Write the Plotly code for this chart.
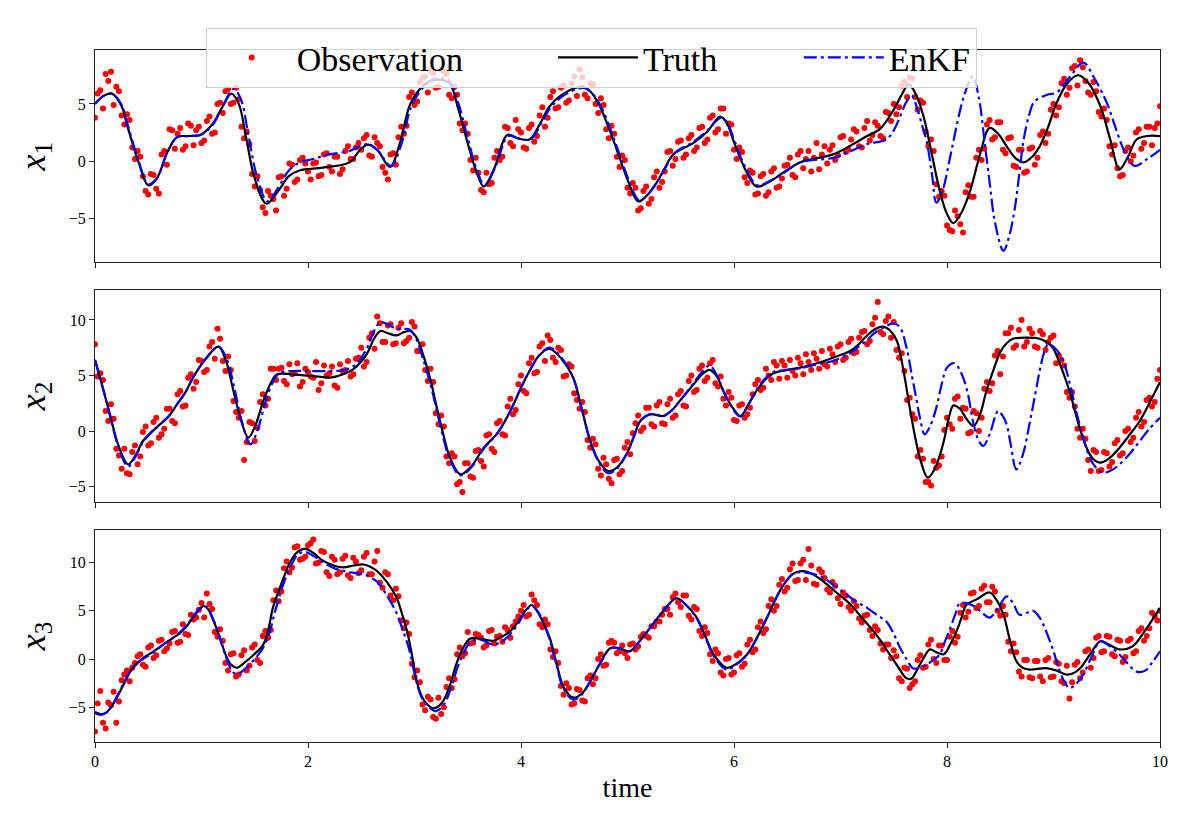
import numpy as np
import plotly.graph_objects as go
from plotly.subplots import make_subplots

# observation times: every 0.05, plus the in-between ones at 0.025 + 0.05k
t_obs = np.round(np.arange(0, 10.0001, 0.05), 3)
t_mid = np.round(np.arange(0.025, 10, 0.05), 3)

# ---- x1 ----
x1_truth_t = [0, 0.08, 0.16, 0.25, 0.3, 0.41, 0.5, 0.58, 0.68, 0.77, 0.88, 0.99, 1.1, 1.2, 1.28, 1.35, 1.42, 1.5, 1.61, 1.72,
              1.82, 1.92, 2.14, 2.39, 2.48, 2.56, 2.65, 2.77, 2.86, 2.96, 3.05, 3.15, 3.25, 3.33, 3.41, 3.49, 3.57, 3.65, 3.75,
              3.87, 3.97, 4.08, 4.18, 4.27, 4.4, 4.58, 4.66, 4.74, 4.82, 4.9, 5.0, 5.1, 5.18, 5.27, 5.35, 5.43, 5.62, 5.75,
              5.87, 5.93, 5.99, 6.1, 6.21, 6.33, 6.46, 6.62, 6.93, 7.1, 7.25, 7.37, 7.5, 7.58, 7.64, 7.71, 7.78, 7.86, 7.93,
              8.0, 8.06, 8.14, 8.22, 8.31, 8.4, 8.48, 8.56, 8.64, 8.72, 8.8, 8.87, 8.95, 9.03, 9.13, 9.23, 9.33, 9.44, 9.53,
              9.62, 9.7, 9.78, 9.88, 10]
x1_truth = [5.0, 5.7, 5.9, 4.8, 3.2, -0.1, -2.1, -1.5, 0.8, 2.1, 2.2, 2.3, 3.2, 4.8, 5.9, 5.0, 2.0, -1.5, -3.7, -2.6,
            -1.3, -0.8, -0.55, -0.1, 0.9, 1.45, 1.0, -0.5, 1.5, 5.0, 6.3, 7.0, 7.1, 6.8, 4.6, 1.9, -0.6, -2.2, -0.6,
            2.3, 2.0, 1.9, 3.3, 4.8, 5.9, 6.5, 6.0, 4.8, 3.0, 1.0, -1.6, -3.5, -3.0, -1.9, -0.6, 0.6, 1.6, 2.6,
            3.9, 3.4, 1.9, -0.6, -2.2, -1.8, -1.0, -0.1, 0.6, 1.4, 2.2, 2.8, 4.5, 5.9, 6.7, 5.8, 3.9, 0.5, -2.5,
            -4.6, -5.4, -4.4, -2.5, 0.6, 2.9, 2.4, 1.3, 0.3, -0.1, 0.4, 1.3, 3.0, 5.1, 6.8, 7.5, 6.8, 4.8, 2.0,
            -0.7, 0.4, 1.9, 2.2, 2.2]
x1_enkf_t = [0, 0.08, 0.16, 0.25, 0.3, 0.41, 0.5, 0.58, 0.68, 0.77, 0.88, 0.99, 1.1, 1.2, 1.3, 1.37, 1.44, 1.52, 1.62, 1.72,
             1.82, 1.92, 2.05, 2.2, 2.39, 2.48, 2.56, 2.65, 2.78, 2.87, 2.97, 3.06, 3.16, 3.25, 3.33, 3.42, 3.5, 3.58, 3.66,
             3.76, 3.88, 3.98, 4.09, 4.19, 4.28, 4.41, 4.59, 4.67, 4.75, 4.83, 4.91, 5.01, 5.11, 5.19, 5.28, 5.36, 5.44,
             5.62, 5.75, 5.88, 5.94, 6.0, 6.11, 6.22, 6.34, 6.47, 6.62, 6.93, 7.1, 7.25, 7.43, 7.5, 7.56, 7.62, 7.67, 7.72,
             7.77, 7.81, 7.86, 7.9, 7.96, 8.03, 8.1, 8.16, 8.24, 8.3, 8.35, 8.4, 8.45, 8.53, 8.59, 8.64, 8.68, 8.72, 8.77,
             8.82, 8.94, 9.03, 9.15, 9.28, 9.38, 9.5, 9.58, 9.66, 9.76, 9.88, 10]
x1_enkf = [5.0, 5.7, 5.9, 4.9, 3.4, 0.0, -2.0, -1.5, 0.8, 2.1, 2.2, 2.3, 3.1, 4.8, 6.3, 5.4, 2.3, -1.3, -3.5, -2.3,
           -0.8, -0.1, 0.2, 0.6, 0.9, 1.3, 1.5, 1.0, -0.4, 1.3, 4.8, 6.2, 7.1, 7.3, 7.0, 4.8, 2.0, -0.6, -2.1,
           -0.5, 2.2, 2.0, 1.9, 3.3, 4.7, 5.8, 6.4, 5.9, 4.8, 3.0, 1.0, -1.6, -3.4, -2.9, -1.8, -0.5, 0.7,
           1.7, 2.7, 3.8, 3.3, 1.9, -0.6, -2.1, -1.7, -1.0, -0.1, 0.3, 0.9, 1.5, 1.9, 2.7, 3.9, 5.2, 5.7, 4.6,
           3.0, 1.7, -1.2, -3.6, -2.5, 0.4, 3.5, 5.7, 7.4, 5.5, 1.9, -1.8, -5.3, -7.8, -6.3, -3.9, -1.0, 1.9, 4.0,
           5.2, 5.8, 6.0, 7.3, 8.6, 7.3, 5.1, 3.0, 1.0, -0.4, 0.2, 1.0]
x1_obs = [3.8, 6.2, 7.6, 7.8, 6.5, 4.0, 4.1, 1.2, 0.9, -1.3, -2.9, -1.2, -2.8, 0.9, 2.8, 1.1, 2.9, 1.3, 3.1, 2.7,
          1.6, 3.5, 2.4, 5.0, 4.2, 6.3, 5.1, 5.4, 2.0, 1.5, -2.2, -2.5, -4.5, -3.0, -4.3, -1.3, -2.4, -0.3, -1.6, 0.3,
          -0.9, -0.2, -1.3, 0.6, -0.5, 0.4, -1.1, 0.9, 0.2, 1.2, 1.0, 2.3, 0.4, 1.6, -0.5, -1.6, 0.7, 2.1, 2.4, 5.6,
          4.9, 6.9, 7.4, 7.9, 6.4, 8.0, 7.6, 5.5, 5.8, 2.7, 2.4, -0.8, -1.0, -2.7, -2.0, 0.3, 0.1, 3.0, 1.6, 3.6,
          2.5, 1.1, 3.2, 2.2, 4.7, 3.8, 6.1, 4.7, 6.6, 5.3, 7.4, 8.0, 5.8, 6.8, 5.0, 5.5, 2.8, 3.1, 0.4, 0.5,
          -2.3, -1.9, -4.3, -2.6, -3.7, -1.4, -2.3, -0.9, 0.9, 0.2, 1.8, 0.6, 2.3, 1.2, 3.0, 1.9, 4.0, 2.8, 4.6, 3.3,
          1.0, 1.2, -1.4, -0.8, -2.9, -1.3, -3.0, -0.9, -2.3, -1.5, -0.3, -1.2, 0.6, -0.6, 0.9, 0.3, -0.7, 1.3, 1.0, 0.1,
          2.1, 0.8, 1.9, 2.6, 1.2, 3.5, 2.3, 3.1, 2.0, 4.2, 5.0, 4.7, 6.9, 7.3, 5.6, 5.3, 2.6, 1.9, -2.0, -2.6,
          -5.6, -6.1, -4.8, -6.2, -2.1, -3.1, 1.0, 1.1, 3.6, 2.1, 3.4, 0.7, 2.1, -0.5, 1.0, -0.9, 1.2, 0.3, 2.6, 2.4,
          5.0, 4.7, 7.2, 6.4, 8.3, 8.8, 7.0, 5.8, 6.1, 3.9, 3.6, 0.6, -0.6, -1.2, 1.2, 0.5, 2.8, 1.6, 3.0, 2.9,
          4.8]
x1_obs_mid = [5.9, 4.6, 7.0, 4.9, 6.1, 3.2, 3.6, 0.2, 0.4, -2.6, -1.1, -2.4, 0.6, -0.3, 2.7, 2.4, 1.0, 3.3, 1.4, 3.0,
              1.8, 3.9, 2.5, 5.1, 6.1, 5.0, 6.4, 3.0, 2.6, -1.1, -1.3, -4.0, -2.6, -3.3, -1.4, -3.0, -0.2, -1.8, 0.1, -0.2,
              -1.6, -0.1, -1.2, 0.7, -0.9, 0.4, -0.7, 1.3, 0.2, 1.6, 2.0, 0.5, 2.1, 1.3, -1.0, 0.6, -0.3, 3.0, 3.1, 6.0,
              5.2, 7.3, 6.0, 7.7, 6.5, 7.8, 5.8, 6.5, 3.3, 3.3, 0.1, 0.3, -2.5, -1.0, -1.9, 0.9, 0.4, 2.9, 1.3, 2.8,
              1.2, 2.9, 1.7, 4.0, 3.0, 5.6, 4.6, 6.4, 5.1, 6.8, 5.7, 7.3, 5.5, 6.7, 4.2, 4.9, 2.0, 2.4, -0.5, 0.1,
              -2.8, -2.3, -4.1, -2.2, -3.3, -0.9, -1.8, 0.8, -0.4, 1.7, 0.3, 2.0, 0.9, 2.9, 1.6, 3.8, 2.5, 4.6, 2.4, 3.2,
              0.2, 0.8, -1.9, -1.0, -2.8, -1.1, -2.7, -0.6, -2.2, -0.4, 0.3, -1.4, 0.9, 0.2, -0.9, 1.6, 0.6, -0.2, 1.4, 0.5,
              2.2, 1.0, 2.8, 1.3, 2.9, 1.8, 3.4, 2.2, 4.3, 3.5, 4.1, 6.6, 5.6, 7.2, 4.5, 5.1, 1.3, 0.9, -3.1, -3.0,
              -6.0, -4.3, -5.5, -2.7, -3.1, 0.3, 0.1, 3.2, 1.9, 3.4, 1.0, 2.0, -0.4, 1.0, -1.0, 1.1, -0.3, 2.3, 1.6, 4.5,
              4.0, 6.8, 5.8, 8.1, 6.6, 8.2, 6.0, 6.9, 4.3, 4.6, 1.3, 1.4, -1.3, 0.9, 0.0, 2.5, 1.1, 3.0, 1.4, 3.3]

# ---- x2 ----
x2_truth_t = [0, 0.07, 0.14, 0.22, 0.31, 0.38, 0.45, 0.53, 0.61, 0.69, 0.77, 0.85, 0.92, 1.04, 1.16, 1.23, 1.3, 1.37, 1.44,
              1.51, 1.58, 1.65, 1.71, 1.85, 1.96, 2.1, 2.21, 2.33, 2.43, 2.55, 2.62, 2.68, 2.75, 2.83, 2.9, 2.96, 3.02,
              3.08, 3.15, 3.21, 3.27, 3.33, 3.43, 3.54, 3.65, 3.77, 3.85, 3.93, 4.0, 4.08, 4.17, 4.27, 4.38, 4.49, 4.57,
              4.65, 4.73, 4.82, 4.9, 4.99, 5.06, 5.12, 5.21, 5.34, 5.42, 5.49, 5.55, 5.62, 5.7, 5.77, 5.84, 5.9, 5.98,
              6.06, 6.13, 6.21, 6.29, 6.37, 6.5, 6.62, 6.78, 6.93, 7.09, 7.17, 7.25, 7.33, 7.4, 7.47, 7.53, 7.59, 7.65,
              7.7, 7.75, 7.82, 7.89, 7.97, 8.02, 8.06, 8.12, 8.19, 8.25, 8.31, 8.37, 8.44, 8.5, 8.56, 8.62, 8.75, 8.87,
              8.95, 9.0, 9.07, 9.15, 9.23, 9.31, 9.37, 9.44, 9.53, 9.62, 9.71, 9.81, 9.9, 10]
x2_truth = [6.4, 4.0, 1.5, -1.3, -3.0, -2.2, -0.9, -0.1, 0.6, 1.3, 2.4, 3.5, 4.8, 6.5, 7.6, 6.3, 3.6, 1.0, -0.6,
            0.6, 2.7, 4.3, 5.1, 5.1, 5.0, 4.9, 4.8, 5.1, 5.6, 6.9, 8.3, 9.0, 8.8, 8.6, 8.9, 9.0, 8.4,
            6.9, 4.6, 2.1, -0.3, -2.3, -3.9, -3.1, -1.5, -0.3, 0.9, 2.4, 3.9, 5.4, 6.8, 7.4, 6.5, 4.8, 2.0,
            -0.9, -2.7, -3.6, -3.3, -2.1, -0.5, 0.9, 1.5, 1.35, 1.9, 2.7, 3.4, 4.2, 5.1, 5.5, 4.9, 3.6, 2.2,
            1.35, 2.3, 3.6, 4.6, 5.2, 5.5, 5.7, 6.1, 6.6, 7.2, 7.8, 8.6, 9.2, 9.4, 9.0, 8.1, 5.5, 2.1,
            -0.5, -2.6, -4.2, -3.3, -0.9, 1.3, 2.3, 2.0, 1.0, 0.45, 1.5, 3.6, 5.6, 7.1, 7.9, 8.3, 8.4, 8.3,
            7.9, 7.4, 5.8, 3.6, 0.8, -1.5, -2.5, -2.85, -2.4, -1.5, -0.4, 0.9, 2.5, 4.4]
x2_enkf_t = [0, 0.07, 0.14, 0.22, 0.31, 0.38, 0.45, 0.53, 0.61, 0.69, 0.77, 0.85, 0.92, 1.04, 1.16, 1.24, 1.31, 1.38, 1.46,
             1.53, 1.6, 1.67, 1.73, 1.85, 2.0, 2.2, 2.35, 2.45, 2.55, 2.62, 2.68, 2.75, 2.83, 2.9, 2.96, 3.02, 3.08,
             3.15, 3.21, 3.27, 3.33, 3.43, 3.54, 3.65, 3.77, 3.85, 3.93, 4.0, 4.08, 4.17, 4.27, 4.38, 4.49, 4.57, 4.65,
             4.73, 4.82, 4.9, 4.99, 5.06, 5.12, 5.21, 5.34, 5.42, 5.49, 5.55, 5.62, 5.7, 5.77, 5.84, 5.9, 5.98, 6.06,
             6.13, 6.21, 6.29, 6.37, 6.5, 6.62, 6.78, 6.93, 7.09, 7.17, 7.25, 7.33, 7.42, 7.5, 7.56, 7.62, 7.67, 7.71,
             7.75, 7.79, 7.84, 7.9, 7.95, 8.0, 8.07, 8.13, 8.19, 8.25, 8.3, 8.34, 8.4, 8.48, 8.52, 8.56, 8.6, 8.65,
             8.71, 8.78, 8.83, 8.87, 8.91, 8.95, 9.02, 9.09, 9.16, 9.22, 9.28, 9.34, 9.4, 9.47, 9.55, 9.62, 9.72, 9.81,
             9.9, 10]
x2_enkf = [6.4, 4.0, 1.4, -1.4, -3.2, -2.3, -1.0, -0.1, 0.6, 1.3, 2.4, 3.5, 4.8, 6.5, 7.6, 6.4, 3.8, 0.8, -1.2,
           0.2, 2.6, 4.4, 5.2, 5.4, 5.4, 5.4, 5.5, 6.0, 7.4, 9.0, 9.8, 9.6, 9.2, 9.2, 9.1, 8.2, 6.5,
           4.2, 1.8, -0.6, -2.5, -4.0, -3.2, -1.6, -0.3, 0.9, 2.4, 3.9, 5.4, 6.8, 7.5, 6.6, 4.8, 2.0, -0.9,
           -2.8, -3.8, -3.4, -2.1, -0.5, 0.9, 1.5, 1.4, 1.9, 2.7, 3.4, 4.3, 5.3, 5.9, 5.0, 3.6, 2.1, 1.3,
           2.3, 3.7, 4.7, 5.3, 5.5, 5.65, 6.0, 6.3, 7.0, 7.6, 8.2, 8.9, 9.4, 9.7, 9.3, 7.5, 5.0, 3.0,
           1.0, -0.3, 0.4, 2.1, 4.2, 5.7, 6.1, 5.3, 3.6, 0.6, -0.9, -1.35, -0.3, 1.8, 1.4, 0.6, -1.3, -3.45,
           -2.2, 0.9, 3.4, 5.4, 7.0, 7.8, 7.4, 6.3, 4.0, 1.5, -0.6, -2.4, -3.3, -3.75, -3.5, -3.0, -2.0, -0.9,
           0.2, 1.2]
x2_obs = [7.8, 5.2, 1.8, 2.4, -1.6, -3.4, -3.8, -1.9, -3.0, -0.1, -1.3, 0.8, -0.6, 0.2, 2.0, 0.7, 3.6, 2.3, 5.1, 4.4,
          6.3, 5.5, 8.0, 9.2, 6.3, 6.7, 2.7, 1.2, -2.6, 0.8, -0.9, 2.6, 2.3, 5.6, 4.6, 5.7, 4.2, 5.1, 6.1, 4.4,
          5.3, 4.8, 3.7, 5.9, 5.2, 4.1, 6.0, 5.5, 4.9, 6.5, 7.5, 6.2, 8.8, 10.3, 8.0, 9.5, 7.8, 9.3, 7.9, 8.4,
          9.4, 7.2, 5.5, 5.6, 1.6, 1.4, -2.3, -2.0, -4.8, -5.5, -2.9, -4.2, -1.7, -3.2, -0.3, -1.9, 0.9, -0.4, 2.9, 1.9,
          5.0, 3.4, 6.6, 5.3, 7.9, 8.6, 6.6, 7.5, 4.9, 6.0, 3.4, 2.0, 1.7, -1.5, -1.2, -4.0, -3.0, -4.7, -2.5, -3.6,
          -1.0, -0.2, 1.4, 0.3, 2.1, 0.4, 2.6, 0.6, 2.9, 1.4, 3.6, 2.2, 5.0, 3.7, 5.9, 4.8, 6.4, 4.0, 2.9, 3.5,
          1.0, 2.3, 1.2, 2.1, 4.2, 3.7, 5.6, 4.6, 5.9, 6.3, 4.8, 5.4, 6.6, 5.1, 6.2, 7.0, 5.6, 6.0, 7.4, 6.2,
          7.8, 6.6, 8.3, 7.1, 8.9, 7.8, 9.6, 11.6, 8.7, 10.3, 9.8, 6.6, 5.4, 3.0, 1.1, -1.7, -4.6, -4.9, -3.3, -2.3,
          1.2, 0.2, 3.1, 2.1, -0.2, 1.8, 0.0, 3.8, 3.6, 6.8, 5.1, 8.8, 9.3, 7.7, 10.0, 8.0, 8.8, 7.5, 8.7, 8.0,
          8.6, 6.8, 5.9, 3.0, 2.2, -0.6, -0.7, -3.6, -1.9, -3.5, -2.0, -2.8, -0.8, -2.0, 0.2, -0.6, 1.7, 0.8, 3.0, 2.6,
          5.5]
x2_obs_mid = [4.9, 4.6, 0.9, 1.1, -2.2, -1.6, -3.9, -1.3, -2.3, 0.4, -1.1, 1.2, -0.3, 2.0, 0.9, 3.3, 2.2, 4.8, 3.8, 6.4,
              5.3, 7.6, 6.5, 8.3, 5.4, 5.5, 1.7, 1.8, -1.0, 0.7, 0.3, 3.3, 2.9, 5.6, 5.6, 4.5, 6.0, 5.2, 4.0, 5.6,
              4.9, 6.2, 4.3, 5.0, 5.8, 3.9, 5.4, 6.3, 5.1, 6.6, 5.8, 8.4, 7.4, 9.7, 8.0, 9.6, 7.9, 9.7, 8.1, 9.8,
              7.2, 7.8, 4.5, 4.4, 0.6, 0.4, -2.9, -2.3, -4.6, -2.9, -4.1, -1.8, -2.7, -0.4, -1.6, 0.7, -0.3, 2.2, 1.5, 4.2,
              3.6, 6.1, 5.2, 7.6, 6.3, 8.2, 6.2, 7.3, 5.0, 5.8, 2.8, 2.6, -0.8, -0.7, -3.4, -2.4, -4.3, -2.6, -3.9, -1.5,
              -2.1, 0.7, 0.0, 2.1, 0.6, 2.3, 0.7, 2.4, 1.2, 3.3, 2.3, 4.5, 3.5, 5.6, 4.5, 6.1, 4.3, 4.9, 2.3, 3.0,
              0.9, 2.4, 1.5, 3.3, 4.6, 3.9, 5.0, 6.2, 4.7, 5.9, 6.4, 5.0, 6.1, 6.9, 5.5, 6.5, 7.2, 5.8, 6.9, 7.6,
              6.4, 8.0, 7.0, 8.4, 9.0, 8.1, 10.2, 8.9, 9.9, 8.4, 7.3, 7.0, 2.8, 1.5, -2.3, -2.5, -4.6, -2.7, -3.1, 0.1,
              0.6, 2.9, 1.1, 2.0, -0.1, 1.6, 1.2, 4.4, 4.3, 7.2, 6.7, 8.8, 7.5, 9.1, 7.6, 9.2, 7.6, 9.0, 7.3, 8.4,
              6.1, 6.4, 3.5, 3.5, 0.2, 0.2, -2.6, -1.7, -3.6, -1.9, -3.2, -1.1, -2.2, 0.0, -1.0, 1.2, 0.4, 2.8, 2.2, 4.7]

# ---- x3 ----
x3_truth_t = [0, 0.05, 0.1, 0.15, 0.2, 0.27, 0.33, 0.39, 0.45, 0.55, 0.64, 0.72, 0.8, 0.86, 0.92, 0.97, 1.02, 1.06, 1.1,
              1.14, 1.19, 1.24, 1.28, 1.33, 1.4, 1.49, 1.58, 1.63, 1.67, 1.72, 1.77, 1.83, 1.89, 1.95, 1.99, 2.05,
              2.14, 2.24, 2.33, 2.43, 2.52, 2.58, 2.65, 2.74, 2.83, 2.88, 2.93, 2.98, 3.02, 3.09, 3.18, 3.26, 3.33,
              3.39, 3.45, 3.52, 3.62, 3.74, 3.82, 3.9, 3.97, 4.04, 4.1, 4.16, 4.22, 4.27, 4.33, 4.4, 4.49, 4.57, 4.65,
              4.74, 4.84, 4.93, 5.02, 5.11, 5.21, 5.33, 5.46, 5.55, 5.65, 5.73, 5.81, 5.93, 6.02, 6.12, 6.22, 6.31,
              6.39, 6.46, 6.55, 6.62, 6.7, 6.81, 6.95, 7.09, 7.2, 7.31, 7.39, 7.46, 7.54, 7.62, 7.67, 7.71, 7.77,
              7.84, 7.9, 7.97, 8.03, 8.09, 8.14, 8.18, 8.28, 8.4, 8.46, 8.53, 8.59, 8.65, 8.71, 8.78, 8.93, 9.03,
              9.12, 9.18, 9.25, 9.35, 9.44, 9.52, 9.62, 9.74, 9.85, 10]
x3_truth = [-5.5, -5.7, -5.6, -5.0, -4.1, -2.6, -1.3, -0.5, 0.1, 0.8, 1.5, 2.1, 2.7, 3.4, 4.3, 5.0, 5.5, 5.2, 4.3,
            3.2, 1.6, 0.1, -0.6, -0.9, -0.4, 0.45, 1.5, 3.2, 5.3, 6.9, 8.4, 10.0, 11.0, 11.4, 11.4, 11.0,
            10.2, 9.7, 9.5, 9.7, 9.8, 9.6, 9.1, 8.0, 6.4, 4.8, 2.9, 0.2, -2.3, -4.3, -5.1, -4.5, -2.8,
            -0.6, 1.0, 2.1, 2.1, 1.9, 2.3, 2.9, 3.8, 5.0, 5.6, 4.8, 3.5, 2.2, -0.3, -2.9, -4.0, -3.6, -2.3,
            -0.5, 1.15, 1.1, 0.8, 1.8, 3.2, 4.9, 6.3, 5.6, 4.3, 2.4, 0.45, -0.9, -0.5, 0.45, 2.3, 4.3,
            6.2, 7.6, 8.8, 9.1, 9.0, 8.3, 7.0, 5.7, 4.3, 2.9, 1.7, 0.5, -0.8, -2.0, -2.0, -1.3, -0.1,
            1.0, 0.7, 0.5, 1.5, 2.9, 4.4, 5.6, 6.2, 6.9, 6.2, 4.6, 2.0, -0.2, -0.9, -1.1, -0.95, -1.2,
            -1.6, -1.5, -0.95, 0.6, 1.85, 1.5, 1.0, 1.3, 2.8, 5.3]
x3_enkf_t = [0, 0.05, 0.1, 0.15, 0.2, 0.27, 0.33, 0.39, 0.45, 0.55, 0.64, 0.72, 0.8, 0.86, 0.92, 0.97, 1.02, 1.06, 1.1,
             1.15, 1.2, 1.25, 1.3, 1.35, 1.42, 1.5, 1.58, 1.64, 1.69, 1.74, 1.79, 1.85, 1.91, 1.97, 2.02, 2.08, 2.16,
             2.25, 2.35, 2.45, 2.52, 2.58, 2.65, 2.74, 2.83, 2.89, 2.95, 3.0, 3.06, 3.14, 3.2, 3.27, 3.34, 3.4, 3.46,
             3.53, 3.62, 3.74, 3.82, 3.9, 3.97, 4.04, 4.1, 4.16, 4.22, 4.27, 4.33, 4.4, 4.49, 4.57, 4.65, 4.74, 4.84,
             4.93, 5.02, 5.11, 5.21, 5.33, 5.46, 5.55, 5.65, 5.73, 5.81, 5.93, 6.02, 6.12, 6.22, 6.31, 6.39, 6.46,
             6.55, 6.62, 6.81, 6.92, 7.03, 7.14, 7.25, 7.35, 7.43, 7.5, 7.56, 7.62, 7.68, 7.75, 7.81, 7.87, 7.93,
             7.98, 8.03, 8.08, 8.12, 8.18, 8.25, 8.33, 8.4, 8.48, 8.56, 8.62, 8.68, 8.75, 8.81, 8.87, 8.93, 9.0, 9.06,
             9.11, 9.15, 9.21, 9.28, 9.36, 9.44, 9.52, 9.62, 9.7, 9.78, 9.86, 9.93, 10]
x3_enkf = [-5.6, -5.8, -5.6, -5.0, -4.0, -2.5, -1.3, -0.5, 0.0, 0.7, 1.5, 2.1, 2.8, 3.5, 4.4, 5.1, 5.5, 5.3, 4.4,
           3.0, 1.2, -0.4, -1.4, -1.5, -0.9, 0.0, 1.2, 2.8, 4.9, 6.8, 8.4, 9.9, 10.9, 11.1, 10.9, 10.5, 9.9,
           9.4, 9.1, 8.9, 8.8, 8.5, 8.0, 6.6, 4.8, 3.0, 1.0, -1.5, -3.8, -5.0, -5.4, -4.8, -3.1, -1.0, 0.6,
           1.8, 2.0, 1.5, 1.8, 2.6, 3.6, 4.9, 5.5, 4.9, 3.5, 2.0, -0.5, -3.1, -4.2, -3.7, -2.3, -0.5, 1.1,
           1.1, 0.8, 1.8, 3.2, 4.9, 6.3, 5.6, 4.2, 2.3, 0.3, -1.1, -0.6, 0.4, 2.3, 4.3, 6.2, 7.6,
           8.8, 9.0, 8.6, 7.8, 6.9, 6.0, 5.3, 4.5, 3.9, 2.6, 1.15, 0.0, -0.95, -0.9, -0.6, -0.1, 0.45,
           1.8, 3.2, 4.7, 5.8, 5.8, 5.5, 4.8, 4.3, 5.3, 6.5, 5.8, 4.6, 4.8, 5.0, 4.3, 2.9, 0.8, -1.3,
           -2.5, -3.0, -2.6, -1.6, 0.3, 1.85, 1.4, 0.45, -0.5, -1.3, -1.2, -0.3, 0.8]
x3_obs = [-7.5, -3.3, -7.2, -4.8, -6.6, -2.2, -1.2, -0.9, 0.3, -0.6, 1.2, 0.1, 1.9, 0.8, 1.6, 2.9, 1.8, 2.6, 4.6, 4.3,
          5.8, 6.8, 5.2, 2.3, 1.9, -1.2, 0.6, -1.6, 0.9, -0.7, 1.5, -0.4, 2.9, 3.0, 7.1, 7.0, 10.1, 9.5, 11.7, 10.4,
          11.8, 12.4, 10.0, 11.1, 8.6, 10.3, 9.0, 10.7, 8.4, 10.1, 9.2, 11.0, 8.8, 11.2, 7.4, 8.8, 6.1, 6.5, 3.2, 2.6,
          -1.9, -2.4, -5.3, -4.2, -6.2, -5.7, -2.9, -3.0, 0.5, 0.3, 2.8, 1.7, 2.5, 1.2, 2.9, 1.6, 2.4, 3.3, 2.2, 3.9,
          5.0, 4.4, 6.7, 5.6, 3.3, 3.6, 0.2, -0.4, -3.7, -3.0, -4.6, -3.2, -4.4, -1.7, -2.0, 0.5, -0.6, 1.9, 0.6, 1.4,
          0.1, 1.6, 1.3, 2.6, 2.2, 3.4, 3.9, 5.2, 4.6, 6.8, 5.4, 6.6, 4.1, 5.2, 2.4, 2.7, -0.2, 0.6, -1.7, 0.1,
          -1.4, 0.6, -0.5, 2.0, 1.0, 3.9, 3.1, 6.2, 5.5, 8.3, 7.4, 9.9, 8.2, 10.3, 11.4, 7.8, 9.3, 8.4, 6.9, 7.6,
          5.7, 6.6, 5.0, 5.5, 3.8, 4.6, 2.4, 3.0, 1.0, 1.5, 0.9, -2.0, -0.9, -3.0, -2.3, 0.4, -0.8, 2.0, -0.4, 1.4,
          -0.1, 2.9, 2.3, 5.6, 4.9, 6.9, 5.5, 7.6, 5.9, 7.0, 4.5, 4.6, 0.8, 0.7, -1.8, -0.1, -2.0, -0.2, -2.3, 0.1,
          -1.8, -0.5, -2.5, -4.1, -0.6, -2.0, 0.8, -0.9, 2.2, 0.7, 2.4, 0.5, 2.0, -0.3, 1.9, 0.6, 2.9, 1.9, 3.2, 4.5,
          5.0]
x3_obs_mid = [-4.6, -6.6, -4.5, -3.4, -4.4, -1.6, -2.3, -0.4, 0.5, -0.8, 1.4, 0.4, 2.0, 1.1, 2.8, 1.7, 3.6, 2.5, 4.1, 5.1,
              4.3, 5.7, 2.8, 3.1, -0.4, 0.5, -1.8, 0.4, -1.2, 1.2, -0.1, 2.4, 2.2, 6.1, 6.0, 9.4, 9.0, 11.6, 10.3, 10.6,
              12.0, 9.9, 11.2, 9.0, 10.6, 8.8, 10.4, 8.7, 10.5, 8.9, 10.6, 8.8, 10.1, 7.9, 9.0, 6.6, 7.3, 4.0, 3.8, -0.5,
              -1.2, -4.7, -3.9, -6.0, -4.0, -5.0, -2.0, -2.1, 1.2, 0.6, 1.6, 2.6, 2.2, 1.4, 3.0, 2.3, 1.8, 3.0, 3.4, 4.4,
              5.6, 4.6, 6.1, 3.6, 4.1, 1.0, 0.8, -2.8, -2.5, -4.7, -3.1, -4.3, -2.0, -2.6, 0.0, -0.7, 1.7, 1.7, 0.8, 0.6,
              1.5, 1.0, 2.3, 2.4, 3.4, 3.9, 4.6, 5.2, 6.4, 5.9, 6.6, 4.5, 5.4, 2.9, 3.3, 0.5, 1.0, -1.4, 0.0, -1.6,
              0.4, -0.8, 1.5, 0.7, 3.3, 2.7, 5.5, 5.0, 7.7, 7.0, 9.3, 8.1, 9.9, 8.2, 9.7, 7.7, 9.0, 7.2, 8.0, 6.3,
              6.9, 5.4, 6.0, 4.2, 4.5, 3.0, 3.4, 1.6, 1.5, 0.1, 0.3, -2.3, -1.0, -2.6, -0.1, -0.9, 1.5, 0.0, 1.4, -0.1,
              2.3, 1.7, 4.8, 4.3, 6.8, 5.3, 7.3, 5.9, 7.5, 5.0, 5.5, 1.8, 1.6, -1.3, -0.1, -1.9, -0.2, -1.8, -0.1, -1.9,
              -0.3, -2.3, -0.7, -2.4, -0.3, -1.4, 1.0, 0.1, 2.4, 0.8, 2.3, 0.3, 1.9, 0.2, 2.1, 0.8, 3.2, 2.4, 4.8, 4.0]

panels = [
    (x1_obs, x1_obs_mid, x1_truth_t, x1_truth, x1_enkf_t, x1_enkf),
    (x2_obs, x2_obs_mid, x2_truth_t, x2_truth, x2_enkf_t, x2_enkf),
    (x3_obs, x3_obs_mid, x3_truth_t, x3_truth, x3_enkf_t, x3_enkf),
]
y_labels = ['<i>x</i><sub>1</sub>', '<i>x</i><sub>2</sub>', '<i>x</i><sub>3</sub>']
y_ranges = [[-8.8, 9.7], [-6.4, 12.7], [-8.6, 13.4]]
y_ticks = [[-5, 0, 5], [-5, 0, 5, 10], [-5, 0, 5, 10]]
x_ticks = [0, 2, 4, 6, 8, 10]

FONT = 'Liberation Serif'
NB = '\u00a0'

t_all = np.concatenate([t_obs, t_mid])

fig = make_subplots(rows=3, cols=1, shared_xaxes=True, vertical_spacing=0.04)

for i, (obs, obs_mid, tt, tv, et, ev) in enumerate(panels):
    row = i + 1
    first = (i == 0)
    fig.add_trace(go.Scatter(x=t_all, y=list(obs) + list(obs_mid), mode='markers', name='Observation' + NB * 10,
                             marker=dict(color='red', size=6), showlegend=first), row=row, col=1)
    fig.add_trace(go.Scatter(x=tt, y=tv, mode='lines', name='Truth' + NB * 9,
                             line=dict(color='black', width=2.2, shape='spline'), showlegend=first), row=row, col=1)
    fig.add_trace(go.Scatter(x=et, y=ev, mode='lines', name='EnKF',
                             line=dict(color='blue', width=2.2, shape='spline', dash='13px,4px,3px,4px'),
                             showlegend=first), row=row, col=1)
    fig.update_yaxes(range=y_ranges[i], tickvals=y_ticks[i], row=row, col=1,
                     title=dict(text=y_labels[i], font=dict(size=36, family=FONT), standoff=12))
    fig.update_xaxes(range=[0, 10], tickvals=x_ticks, showticklabels=(row == 3), row=row, col=1)

fig.update_xaxes(showline=True, mirror=True, linecolor='#222', linewidth=1, ticks='outside', ticklen=5,
                 tickcolor='#222', showgrid=False, zeroline=False, tickfont=dict(size=16, family=FONT))
fig.update_yaxes(showline=True, mirror=True, linecolor='#222', linewidth=1, ticks='outside', ticklen=5,
                 tickcolor='#222', showgrid=False, zeroline=False, tickfont=dict(size=16, family=FONT))
fig.update_xaxes(title=dict(text='time', font=dict(size=28, family=FONT), standoff=8), row=3, col=1)

# page body adds an 8px offset, so the figure is a little smaller than the window
fig.update_layout(
    width=1192, height=820,
    margin=dict(l=87, r=40, t=42, b=86),
    paper_bgcolor='white', plot_bgcolor='white',
    font=dict(family=FONT, color='black'),
    legend=dict(orientation='h', x=0.104, y=1.032, xanchor='left', yanchor='top',
                bgcolor='rgba(255,255,255,0.8)', bordercolor='#d0d0d0', borderwidth=1,
                font=dict(size=34, family=FONT), itemwidth=80),
    showlegend=True,
)

fig.write_html('out.html')
